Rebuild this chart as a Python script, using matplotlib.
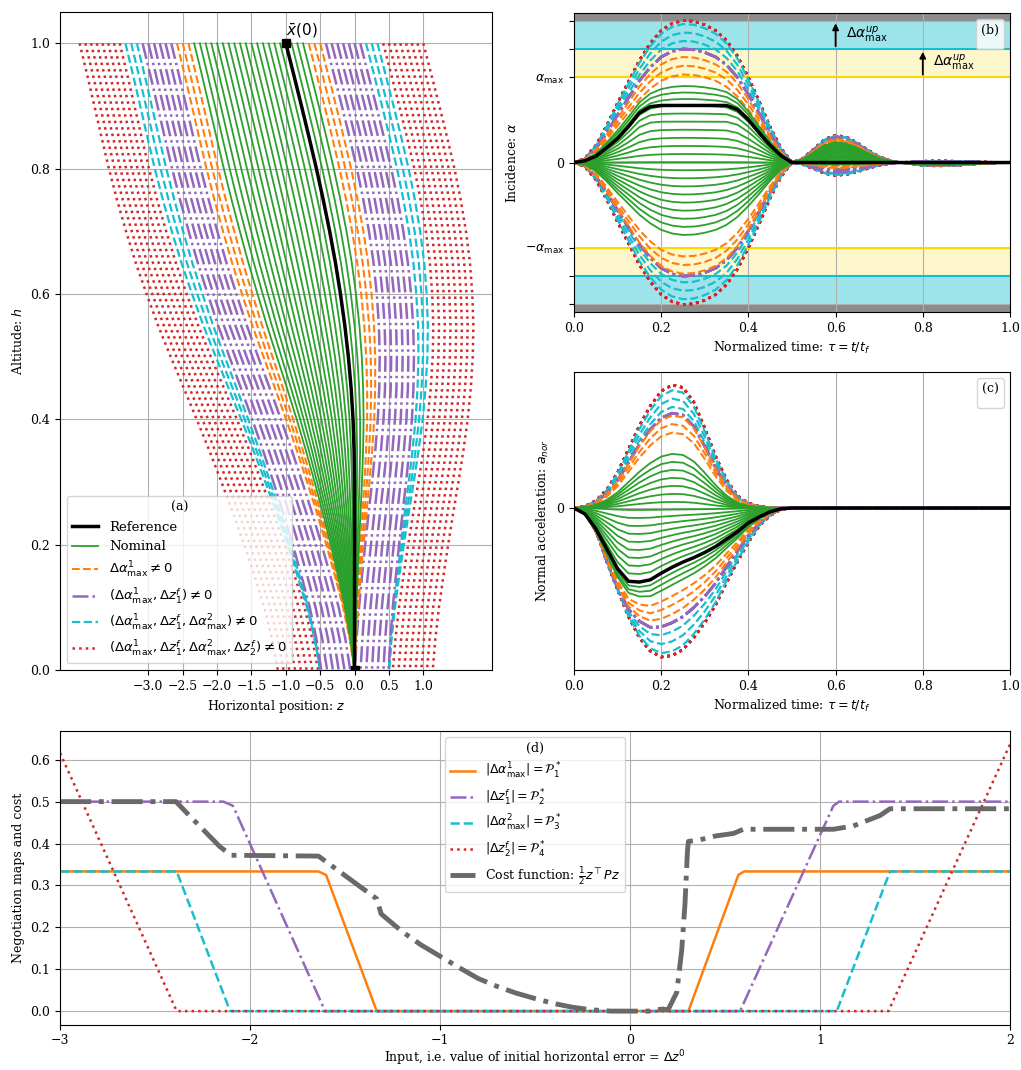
import numpy as np
import matplotlib.pyplot as plt
from matplotlib.lines import Line2D

plt.rcParams['font.family'] = 'serif'
plt.rcParams['font.serif'] = ['DejaVu Serif']
plt.rcParams['font.size'] = 9
plt.rcParams['mathtext.fontset'] = 'dejavusans'

# ---- panel (d): negotiation maps, x = initial error dz0
p1_dz = [-3.0, -1.64, -1.60, -1.333, 0.307, 0.57, 0.60, 2.0]
p1_val = [1/3, 1/3, 0.325, 0.0, 0.0, 0.325, 1/3, 1/3]
p2_dz = [-3.0, -2.14, -2.09, -1.605, 0.579, 1.07, 1.10, 2.0]
p2_val = [0.5, 0.5, 0.49, 0.0, 0.0, 0.49, 0.5, 0.5]
p3_dz = [-3.0, -2.386, -2.105, 1.088, 1.368, 2.0]
p3_val = [1/3, 1/3, 0.0, 0.0, 1/3, 1/3]
p4_dz = [-3.0, -2.386, 1.36, 2.0]
p4_val = [0.616, 0.0, 0.0, 0.637]
cost_dz = [-3.0, -2.39, -2.32, -2.24, -2.16, -2.10, -1.64, -1.333, -1.31, -1.2,
           -1.1, -1.0, -0.9, -0.8, -0.7, -0.6, -0.5, -0.4, -0.3, -0.2, -0.1,
           0.0, 0.1, 0.17, 0.2, 0.246, 0.272, 0.289, 0.302, 0.307, 0.368, 0.45,
           0.544, 0.596, 1.07, 1.175, 1.316, 1.368, 2.0]
cost_val = [0.5, 0.5, 0.467, 0.43, 0.393, 0.372, 0.37, 0.268, 0.232, 0.19,
            0.158, 0.131, 0.104, 0.078, 0.059, 0.043, 0.03, 0.018, 0.009, 0.003, 0.0,
            0.0, 0.0, 0.005, 0.003, 0.045, 0.146, 0.256, 0.381, 0.405, 0.409, 0.418,
            0.424, 0.434, 0.434, 0.442, 0.467, 0.483, 0.483]

# initial horizontal errors of the simulated runs
dz0_runs = np.linspace(-3.0, 2.0, 61)

# ---- panel (a): trajectory profiles (h from top to ground)
h_grid = [1.0, 0.95, 0.9, 0.85, 0.8, 0.75, 0.7, 0.65, 0.6, 0.55, 0.5,
          0.45, 0.4, 0.35, 0.3, 0.25, 0.2, 0.15, 0.1, 0.05, 0.0]
z_ref = [-1.0, -0.885, -0.772, -0.662, -0.555, -0.455, -0.362, -0.278, -0.205, -0.142, -0.09,
         -0.05, -0.022, -0.007, -0.001, 0.0, 0.0, 0.0, 0.0, 0.0, 0.0]
shrink = [1.0, 1.003, 1.007, 1.01, 1.01, 1.0, 0.98, 0.95, 0.905, 0.85, 0.78,
          0.70, 0.615, 0.525, 0.435, 0.345, 0.26, 0.18, 0.105, 0.045, 0.0]

# ---- panels (b), (c): time profiles
tau = np.linspace(0.0, 1.0, 41)
alpha_bump = [0, 0.03, 0.12, 0.26, 0.42, 0.57, 0.72, 0.84, 0.93, 0.98, 1.0,
              0.995, 0.97, 0.93, 0.86, 0.75, 0.6, 0.43, 0.25, 0.1, 0.0] + [0.0] * 20
alpha_plateau = [0, 0.03, 0.11, 0.26, 0.42, 0.63, 0.87, 0.98, 1, 1, 1,
                 1, 1, 1, 1, 0.93, 0.75, 0.52, 0.3, 0.12, 0.0] + [0.0] * 20
alpha_tail = [0.0] * 20 + [0, 0.15, 0.5, 0.85, 1.0, 0.93, 0.72, 0.45, 0.22, 0.07, 0,
                           -0.05, -0.1, -0.12, -0.12, -0.1, -0.08, -0.05, -0.03, -0.01, 0]
alpha_ref_level = 0.67
tail_dz = [-3.0, -2.39, -2.1, -1.6, -1.333, 0.0, 0.307, 0.58, 1.09, 1.36, 2.0]
tail_amp = [0.32, 0.32, 0.30, 0.28, 0.24, 0.0, -0.03, -0.08, -0.12, -0.15, -0.15]
green_dz = [-1.333, 0.0, 0.307]
green_alpha = [-0.85, 0.67, 0.95]

acc_pos = [0, 0.015, 0.06, 0.15, 0.29, 0.48, 0.67, 0.83, 0.95, 1.0, 0.98,
           0.86, 0.65, 0.42, 0.23, 0.1, 0.04, 0.015, 0.005, 0, 0] + [0.0] * 20
acc_neg = [0, 0.02, 0.14, 0.36, 0.55, 0.73, 0.87, 0.96, 1.0, 0.99, 0.95,
           0.87, 0.77, 0.65, 0.5, 0.36, 0.23, 0.12, 0.05, 0.01, 0] + [0.0] * 20
acc_refshape = [0, 0.08, 0.28, 0.55, 0.82, 0.99, 1.0, 0.97, 0.88, 0.8, 0.73,
                0.67, 0.6, 0.52, 0.42, 0.32, 0.2, 0.12, 0.05, 0.01, 0] + [0.0] * 20
acc_alpha = [-5/3, 0.67, 5/3]
acc_level = [1.23, -0.74, -1.49]

h_grid = np.array(h_grid); z_ref = np.array(z_ref); shrink = np.array(shrink)
alpha_bump = np.array(alpha_bump); alpha_plateau = np.array(alpha_plateau)
alpha_tail = np.array(alpha_tail)
acc_pos = np.array(acc_pos); acc_neg = np.array(acc_neg); acc_refshape = np.array(acc_refshape)

styles = {
    'green': dict(color='tab:green', ls='-', lw=1.3),
    'orange': dict(color='tab:orange', ls='--', lw=1.5),
    'purple': dict(color='tab:purple', ls='-.', lw=1.8),
    'cyan': dict(color='tab:cyan', ls='--', lw=1.6),
    'red': dict(color='tab:red', ls=':', lw=1.8),
}
order = {'red': 1, 'cyan': 2, 'purple': 3, 'orange': 4, 'green': 5}

runs = []
for d in dz0_runs:
    q1 = np.interp(d, p1_dz, p1_val)
    q2 = np.interp(d, p2_dz, p2_val)
    q3 = np.interp(d, p3_dz, p3_val)
    q4 = np.interp(d, p4_dz, p4_val)
    if q4 > 1e-3:
        fam = 'red'
    elif q3 > 1e-3:
        fam = 'cyan'
    elif q2 > 1e-3:
        fam = 'purple'
    elif q1 > 1e-3:
        fam = 'orange'
    else:
        fam = 'green'
    sgn = -1.0 if d < -0.5 else 1.0
    zf = sgn * (q2 + q4)
    z = z_ref + d * shrink + zf * (1 - shrink)
    if fam == 'green':
        a = np.interp(d, green_dz, green_alpha)
        wr = np.clip(1 - abs(a - 0.5) / 0.7, 0, 1)
    else:
        a = sgn * (1 + q1 + q3)
        wr = 0.0
    s = np.interp(d, tail_dz, tail_amp)
    alpha = a * (wr * alpha_plateau + (1 - wr) * alpha_bump) + s * alpha_tail
    c = np.interp(a, acc_alpha, acc_level)
    if c >= 0:
        acc = c * acc_pos
    else:
        w = np.clip((abs(c) - 0.74) / (1.49 - 0.74), 0, 1)
        acc = c * ((1 - w) * acc_refshape + w * acc_neg)
    runs.append((fam, z, alpha, acc))

runs.sort(key=lambda r: order[r[0]])

fig = plt.figure(figsize=(10.21, 10.70), dpi=100)
ax_a = fig.add_axes([0.0588, 0.3738, 0.4231, 0.615])
ax_b = fig.add_axes([0.5622, 0.7084, 0.4270, 0.2794])
ax_c = fig.add_axes([0.5622, 0.3738, 0.4270, 0.2785])
ax_d = fig.add_axes([0.0588, 0.0425, 0.9305, 0.2745])

# ---- (a)
for fam, z, alpha, acc in runs:
    ax_a.plot(z, h_grid, **styles[fam])
ax_a.plot(z_ref, h_grid, color='black', lw=2.5)
ax_a.plot([-1.0, 0.0], [1.0, 0.0], 's', color='black', ms=6, ls='none')
ax_a.annotate(r'$\bar{x}(0)$', xy=(-1.0, 1.0), xytext=(0, 2.5), textcoords='offset points',
              ha='left', va='bottom', fontsize=11)
ax_a.set_xlim(-4.285, 2.0)
ax_a.set_ylim(0.0, 1.05)
ax_a.set_xticks(np.arange(-3.0, 1.01, 0.5))
ax_a.set_yticks(np.arange(0.0, 1.01, 0.2))
ax_a.grid(True)
ax_a.set_xlabel('Horizontal position: $z$')
ax_a.set_ylabel('Altitude: $h$')
handles = [Line2D([], [], color='black', lw=2.5)] + \
    [Line2D([], [], **styles[k]) for k in ['green', 'orange', 'purple', 'cyan', 'red']]
labels = ['Reference', 'Nominal', r'$\Delta\alpha^1_{\max}\neq 0$',
          r'$(\Delta\alpha^1_{\max}, \Delta z^f_1)\neq 0$',
          r'$(\Delta\alpha^1_{\max}, \Delta z^f_1, \Delta\alpha^2_{\max})\neq 0$',
          r'$(\Delta\alpha^1_{\max}, \Delta z^f_1, \Delta\alpha^2_{\max}, \Delta z^f_2)\neq 0$']
ax_a.legend(handles, labels, loc='lower left', title='(a)', framealpha=0.8, fontsize=9.5)

# ---- (b)
ax_b.axhspan(1.0, 4/3, color='gold', alpha=0.2, lw=0)
ax_b.axhspan(-4/3, -1.0, color='gold', alpha=0.2, lw=0)
ax_b.axhspan(4/3, 5/3, color='tab:cyan', alpha=0.42, lw=0)
ax_b.axhspan(-5/3, -4/3, color='tab:cyan', alpha=0.42, lw=0)
ax_b.axhspan(5/3, 2.0, color='gray', alpha=0.9, lw=0)
ax_b.axhspan(-2.0, -5/3, color='gray', alpha=0.9, lw=0)
for lvl in (1.0, -1.0):
    ax_b.axhline(lvl, color='gold', lw=1.5)
for lvl in (4/3, -4/3):
    ax_b.axhline(lvl, color='tab:cyan', lw=1.5)
for fam, z, alpha, acc in runs:
    ax_b.plot(tau, alpha, **styles[fam])
ax_b.plot(tau, alpha_ref_level * alpha_plateau, color='black', lw=2.5)
ax_b.annotate('', xy=(0.6, 5/3), xytext=(0.6, 4/3),
              arrowprops=dict(arrowstyle='-|>', color='black', lw=1.3))
ax_b.annotate('', xy=(0.8, 4/3), xytext=(0.8, 1.0),
              arrowprops=dict(arrowstyle='-|>', color='black', lw=1.3))
ax_b.text(0.625, 1.5, r'$\Delta\alpha^{up}_{\max}$', va='center', ha='left', fontsize=10)
ax_b.text(0.823, 1.165, r'$\Delta\alpha^{up}_{\max}$', va='center', ha='left', fontsize=10)
ax_b.set_xlim(0.0, 1.0)
ax_b.set_ylim(-1.755, 1.755)
ax_b.set_yticks([-5/3, -4/3, -1.0, 0.0, 1.0, 4/3, 5/3])
ax_b.set_yticklabels(['', '', r'$-\alpha_{\max}$', '0', r'$\alpha_{\max}$', '', ''])
ax_b.grid(True)
ax_b.set_xlabel(r'Normalized time: $\tau = t/t_f$')
ax_b.set_ylabel(r'Incidence: $\alpha$')
ax_b.legend(handles=[], title='(b)', loc='upper right')

# ---- (c)
for fam, z, alpha, acc in runs:
    ax_c.plot(tau, acc, **styles[fam])
ax_c.plot(tau, -0.74 * acc_refshape, color='black', lw=2.5)
ax_c.set_xlim(0.0, 1.0)
ax_c.set_ylim(-1.62, 1.36)
ax_c.set_yticks([0.0])
ax_c.set_yticklabels(['0'])
ax_c.grid(True)
ax_c.set_xlabel(r'Normalized time: $\tau = t/t_f$')
ax_c.set_ylabel(r'Normal acceleration: $a_{nor}$')
ax_c.legend(handles=[], title='(c)', loc='upper right')

# ---- (d)
ax_d.plot(p1_dz, p1_val, color='tab:orange', ls='-', lw=1.8,
          label=r'$|\Delta\alpha^1_{\max}| = \mathcal{P}^*_1$')
ax_d.plot(p2_dz, p2_val, color='tab:purple', ls='-.', lw=1.8,
          label=r'$|\Delta z^f_1| = \mathcal{P}^*_2$')
ax_d.plot(p3_dz, p3_val, color='tab:cyan', ls='--', lw=1.8,
          label=r'$|\Delta\alpha^2_{\max}| = \mathcal{P}^*_3$')
ax_d.plot(p4_dz, p4_val, color='tab:red', ls=':', lw=1.8,
          label=r'$|\Delta z^f_2| = \mathcal{P}^*_4$')
ax_d.plot(cost_dz, cost_val, color='dimgray', ls='-.', lw=3.5,
          label=r'Cost function: $\frac{1}{2}z^{\top}Pz$')
ax_d.set_xlim(-3.0, 2.0)
ax_d.set_ylim(-0.032, 0.669)
ax_d.set_xticks([-3, -2, -1, 0, 1, 2])
ax_d.grid(True)
ax_d.set_xlabel(r'Input, i.e. value of initial horizontal error = $\Delta z^0$', labelpad=1)
ax_d.set_ylabel('Negotiation maps and cost')
ax_d.legend(loc='upper center', title='(d)')

fig.savefig('out.png', dpi=100)
